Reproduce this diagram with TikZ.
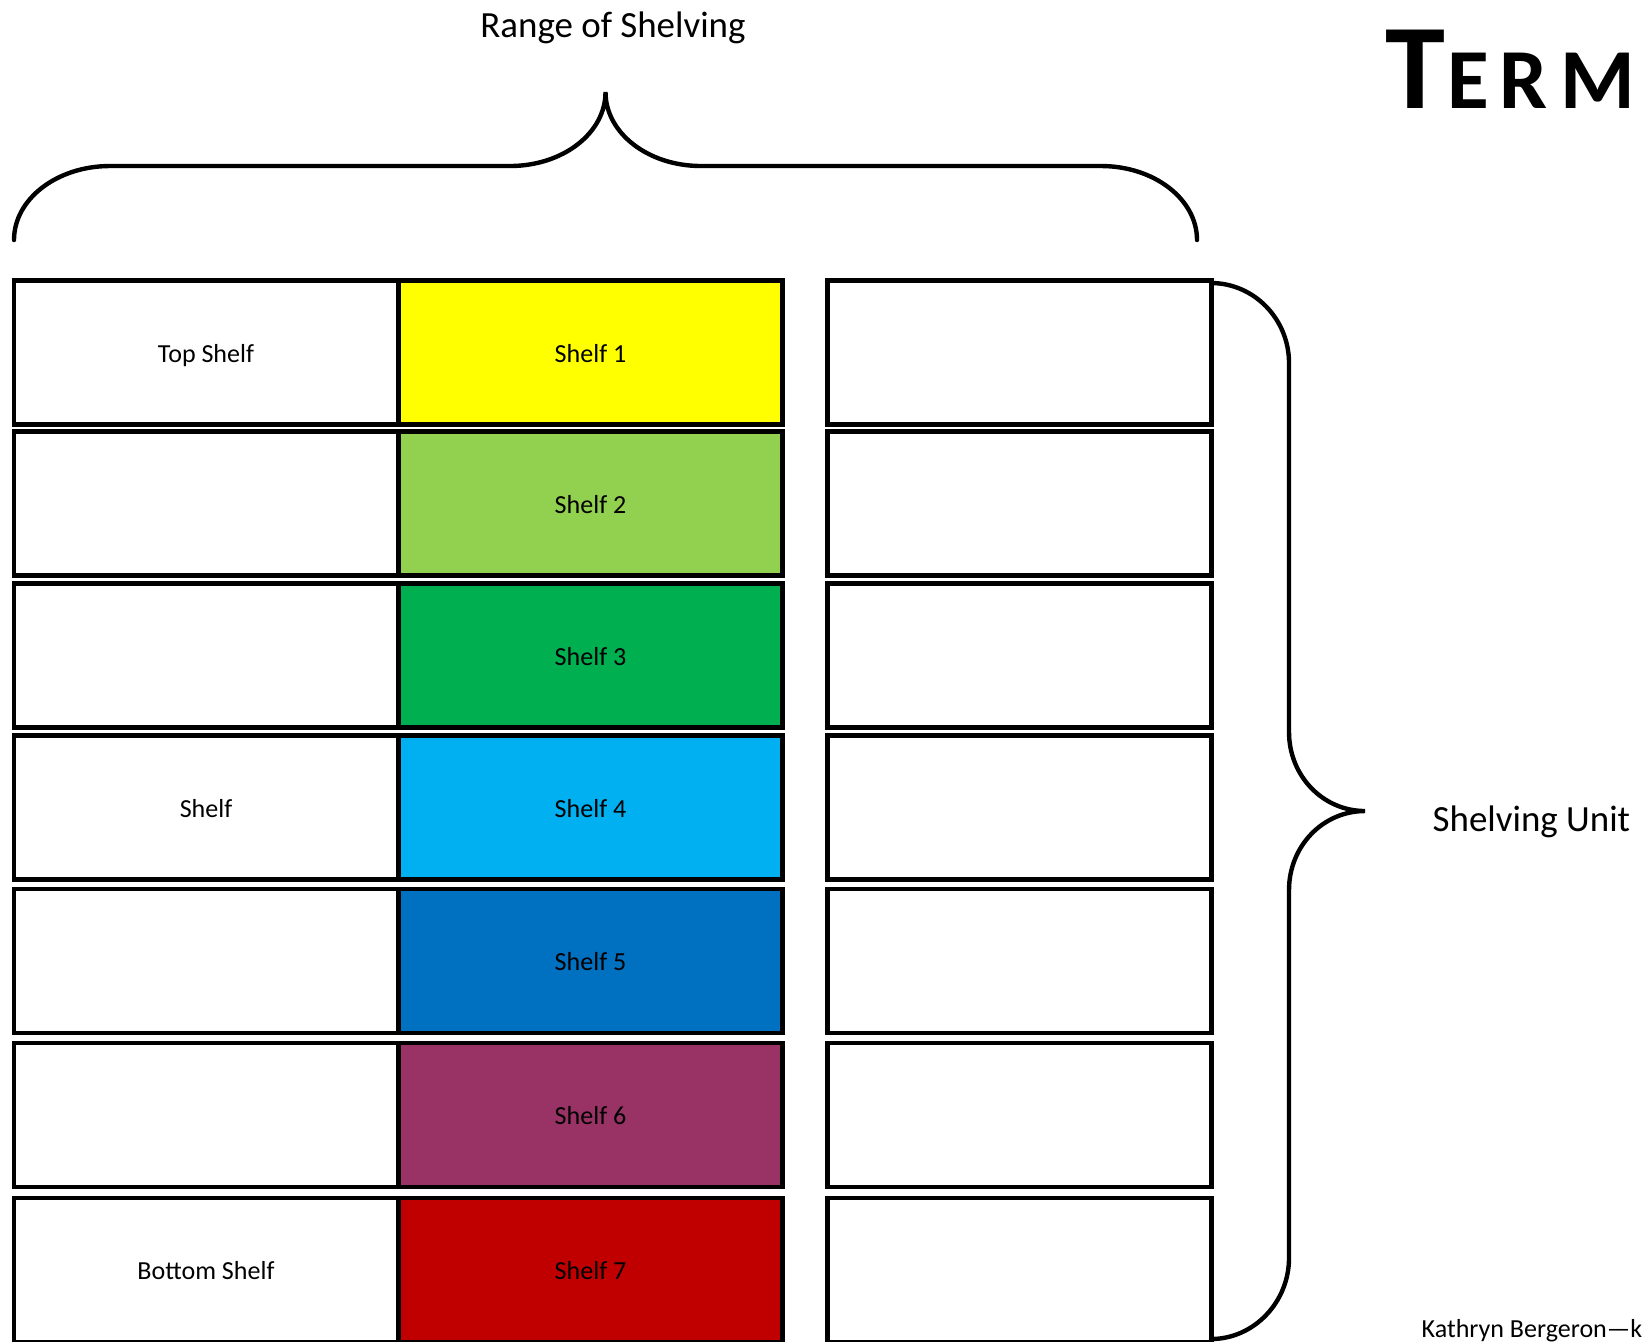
\documentclass[tikz,border=0pt]{standalone}
\usepackage{fontspec}
\setmainfont{Carlito}
\usepackage{tikz}

\definecolor{shelfyellow}{HTML}{FFFF00}
\definecolor{shelflime}{HTML}{92D050}
\definecolor{shelfgreen}{HTML}{00B050}
\definecolor{shelfsky}{HTML}{00B0F0}
\definecolor{shelfblue}{HTML}{0070C0}
\definecolor{shelfplum}{HTML}{993366}
\definecolor{shelfred}{HTML}{C00000}

\begin{document}
\begin{tikzpicture}[x=0.01cm, y=-0.01cm,
    cell/.style={draw=black, line width=1.3pt, minimum width=3.84cm, minimum height=1.44cm,
                 inner sep=0pt, text height=5.6pt, text depth=0pt, font=\fontsize{7.4}{9}\selectfont},
    brace/.style={draw=black, line width=1.25pt, line cap=round}]
    \useasboundingbox (0,0) rectangle (1643,1341);

    % Shelves, one row at a time
    \foreach \i/\y/\col/\lab in {1/352.5/shelfyellow/Top Shelf, 2/503.5/shelflime/,
        3/655.5/shelfgreen/, 4/807.5/shelfsky/Shelf, 5/961/shelfblue/,
        6/1115/shelfplum/, 7/1270/shelfred/Bottom Shelf} {
        \node[cell, fill=white] (left\i) at (206,\y) {\lab};
        \node[cell, fill=\col] (mid\i) at (590.5,\y) {Shelf \i};
        \node[cell, fill=white] (right\i) at (1019.5,\y) {};
    }

    % Range brace
    \draw[brace] (14,240) .. controls (14,199) and (57,166) .. (110,166) -- (510,166)
        .. controls (563,166) and (605.5,133) .. (605.5,92)
        .. controls (605.5,133) and (648,166) .. (701,166) -- (1101,166)
        .. controls (1154,166) and (1197,199) .. (1197,240);
    \node[anchor=base, inner sep=0pt, font=\fontsize{10.5}{12}\selectfont] (range) at (613,37) {Range of Shelving};

    % Unit brace
    \draw[brace] (1211,283) .. controls (1254,283) and (1289,319) .. (1289,363) -- (1289,732)
        .. controls (1289,776) and (1323,811) .. (1365,811)
        .. controls (1323,811) and (1289,846) .. (1289,890) -- (1289,1258)
        .. controls (1289,1302) and (1254,1339) .. (1211,1339);
    \node[anchor=base west, inner sep=0pt, font=\fontsize{10.5}{12}\selectfont] (unit) at (1432,831) {Shelving Unit};

    % Title and credit
    \node[anchor=base west, inner sep=0pt, font=\bfseries] (title) at (1385,108)
        {{\fontsize{34.4}{36}\selectfont T}\kern0.6pt{\fontsize{24.3}{26}\selectfont E\kern3pt R\kern3.5pt M}};
    \node[anchor=base west, inner sep=0pt, font=\fontsize{7.4}{9}\selectfont] (credit) at (1421,1337) {Kathryn Bergeron—k};
\end{tikzpicture}
\end{document}
